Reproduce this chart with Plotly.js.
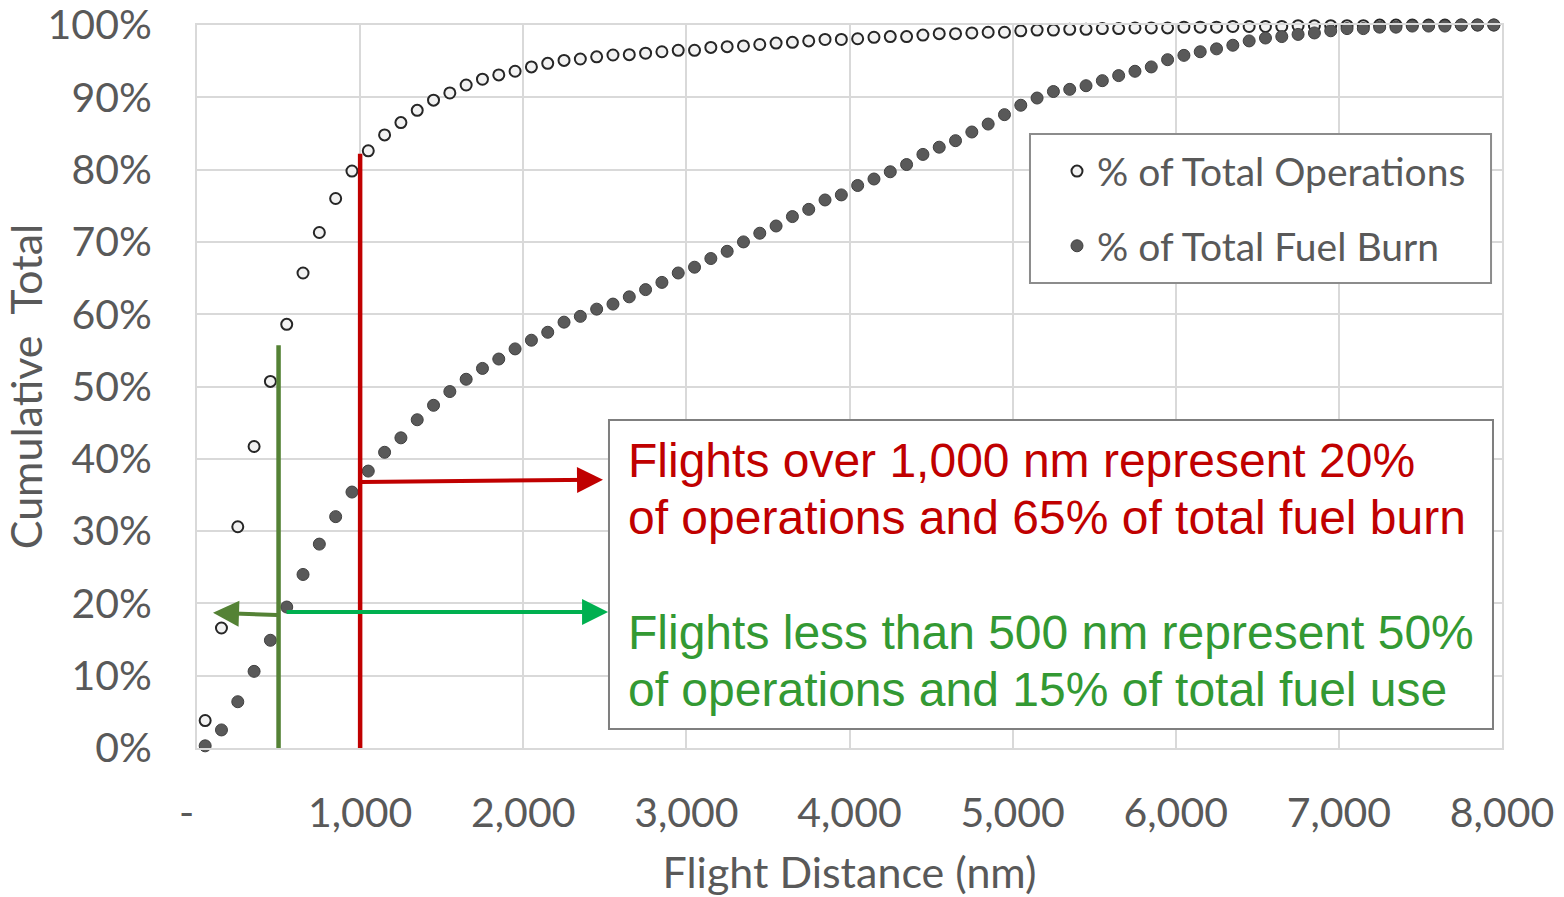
<!DOCTYPE html>
<html>
<head>
<meta charset="utf-8">
<script src="https://cdn.plot.ly/plotly-3.0.1.min.js"></script>
<style>html,body{margin:0;padding:0;background:#fff;}#chart{width:1564px;height:897px;}</style>
</head>
<body>
<div id="chart"></div>
<script>
// Flight distance bins (nm)
const distance = [
  50,150,250,350,450,550,650,750,850,950,
  1050,1150,1250,1350,1450,1550,1650,1750,1850,1950,
  2050,2150,2250,2350,2450,2550,2650,2750,2850,2950,
  3050,3150,3250,3350,3450,3550,3650,3750,3850,3950,
  4050,4150,4250,4350,4450,4550,4650,4750,4850,4950,
  5050,5150,5250,5350,5450,5550,5650,5750,5850,5950,
  6050,6150,6250,6350,6450,6550,6650,6750,6850,6950,
  7050,7150,7250,7350,7450,7550,7650,7750,7850,7950
];
// Cumulative % of total operations
const pctOperations = [
  3.8,16.6,30.6,41.7,50.7,58.6,65.7,71.3,76.0,79.8,
  82.6,84.8,86.5,88.2,89.6,90.6,91.7,92.5,93.1,93.6,
  94.2,94.7,95.1,95.3,95.6,95.85,95.9,96.1,96.3,96.5,
  96.5,96.9,97.0,97.1,97.3,97.5,97.6,97.8,98.0,98.0,
  98.1,98.3,98.4,98.4,98.6,98.8,98.8,98.9,99.0,99.0,
  99.2,99.3,99.3,99.4,99.4,99.5,99.5,99.6,99.6,99.6,
  99.7,99.7,99.7,99.8,99.8,99.8,99.8,99.9,99.9,99.9,
  99.9,99.9,100,100,100,100,100,100,100,100
];
// Cumulative % of total fuel burn
const pctFuelBurn = [
  0.3,2.5,6.4,10.6,14.9,19.5,24.0,28.2,32.0,35.4,
  38.3,40.9,42.9,45.4,47.4,49.3,51.0,52.5,53.8,55.2,
  56.4,57.5,58.9,59.7,60.7,61.4,62.4,63.4,64.4,65.7,
  66.5,67.7,68.7,70.0,71.2,72.2,73.5,74.5,75.8,76.5,
  77.8,78.7,79.7,80.7,82.1,83.1,84.0,85.2,86.3,87.6,
  88.9,89.9,90.8,91.1,91.6,92.3,93.0,93.6,94.2,95.2,
  95.8,96.3,96.7,97.2,97.8,98.2,98.4,98.7,98.9,99.2,
  99.5,99.5,99.7,99.7,99.85,99.85,99.85,100,100,100
];
const xTickVals = [0,1000,2000,3000,4000,5000,6000,7000,8000];
const xTickText = ['-\u00a0\u00a0','1,000','2,000','3,000','4,000','5,000','6,000','7,000','8,000'];
const yTickVals = [0,10,20,30,40,50,60,70,80,90,100];
const yTickText = ['0%','10%','20%','30%','40%','50%','60%','70%','80%','90%','100%'];

const seriesNames = ['% of Total Operations','% of Total Fuel Burn'];
const redNote = ['Flights over 1,000 nm represent 20%','of operations and 65% of total fuel burn'];
const greenNote = ['Flights less than 500 nm represent 50%','of operations and 15% of total fuel use'];

const FONT = 'Lato, Calibri, Carlito, sans-serif';
const GREY = '#595959';
const RED = '#c00000';
const OLIVE = '#548235';
const BGREEN = '#00b050';
const TGREEN = '#339933';

const traces = [
  {
    x: distance, y: pctOperations, name: seriesNames[0], type: 'scatter', mode: 'markers',
    cliponaxis: false, legendgroup: 'a',
    marker: {symbol: 'circle', size: 11, color: '#f2f2f2', line: {color: '#262626', width: 2}}
  },
  {
    x: distance, y: pctFuelBurn, name: seriesNames[1], type: 'scatter', mode: 'markers',
    cliponaxis: false, legendgroup: 'b',
    marker: {symbol: 'circle', size: 12, color: '#595959', line: {color: '#404040', width: 1}}
  }
];

const annotations = [];
const lineY = [[0.3983, redNote[0], RED],[0.3195, redNote[1], RED],[0.1604, greenNote[0], TGREEN],[0.0816, greenNote[1], TGREEN]];
lineY.forEach(([y, t, c]) => annotations.push({
  xref: 'paper', yref: 'paper', x: 0.3285, y: y, xanchor: 'left', yanchor: 'middle',
  text: t, showarrow: false, font: {family: 'Liberation Sans, Arial, sans-serif', size: 48, color: c}
}));
// arrows
annotations.push({xref:'x', yref:'y', axref:'x', ayref:'y', x: 2489, y: 37.1, ax: 1000, ay: 36.8,
  text:'', showarrow:true, arrowhead:2, arrowsize:1.3, arrowwidth:4, arrowcolor: RED, standoff:0, startstandoff:0});
annotations.push({xref:'x', yref:'y', axref:'x', ayref:'y', x: 98, y: 18.7, ax: 500, ay: 18.4,
  text:'', showarrow:true, arrowhead:2, arrowsize:1.3, arrowwidth:4, arrowcolor: OLIVE, standoff:0, startstandoff:0});
annotations.push({xref:'x', yref:'y', axref:'x', ayref:'y', x: 2520, y: 18.8, ax: 540, ay: 18.8,
  text:'', showarrow:true, arrowhead:2, arrowsize:1.3, arrowwidth:4, arrowcolor: BGREEN, standoff:0, startstandoff:0});

const shapes = [
  // legend box
  {type:'rect', xref:'paper', yref:'paper', x0:0.6383, x1:0.9916, y0:0.6432, y1:0.8492,
   line:{color:'#8c8c8c', width:2}, fillcolor:'#ffffff', layer:'above'},
  // note box
  {type:'rect', xref:'paper', yref:'paper', x0:0.3157, x1:0.9931, y0:0.0263, y1:0.4537,
   line:{color:'#7f7f7f', width:2}, fillcolor:'#ffffff', layer:'above'},
  // red vertical
  {type:'line', xref:'x', yref:'y', x0:1000, x1:1000, y0:0, y1:82.2, line:{color:RED, width:4.5}, layer:'above'},
  // olive vertical
  {type:'line', xref:'x', yref:'y', x0:500, x1:500, y0:0, y1:55.7, line:{color:OLIVE, width:4.5}, layer:'above'}
];

const layout = {
  width: 1564, height: 897,
  margin: {l: 197, r: 62, t: 25, b: 149, pad: 0},
  paper_bgcolor: '#ffffff', plot_bgcolor: '#ffffff',
  font: {family: FONT, color: GREY, size: 40},
  showlegend: true,
  legend: {x: 0.659, y: 0.842, xanchor: 'left', yanchor: 'top', bgcolor: 'rgba(0,0,0,0)',
    borderwidth: 0, font: {family: FONT, size: 39, color: GREY}, traceorder: 'grouped', tracegroupgap: 21},
  xaxis: {
    range: [0, 8000], tickvals: xTickVals, ticktext: xTickText, ticks: '',
    showgrid: true, gridcolor: '#d9d9d9', gridwidth: 2, zeroline: false,
    showline: true, linecolor: '#d9d9d9', linewidth: 2, mirror: true,
    tickfont: {family: FONT, size: 41, color: GREY}, ticklabelstandoff: 28, ticklabeloverflow: 'allow',
    title: {text: 'Flight Distance (nm)', font: {family: FONT, size: 43, color: GREY}, standoff: 26}
  },
  yaxis: {
    range: [0, 100], tickvals: yTickVals, ticktext: yTickText, ticks: '',
    showgrid: true, gridcolor: '#d9d9d9', gridwidth: 2, zeroline: false,
    showline: true, linecolor: '#d9d9d9', linewidth: 2, mirror: true,
    tickfont: {family: FONT, size: 41, color: GREY}, ticklabelstandoff: 35, ticklabeloverflow: 'allow',
    title: {text: 'Cumulative&nbsp;&nbsp;Total', font: {family: FONT, size: 43, color: GREY}, standoff: 14}
  },
  annotations: annotations,
  shapes: shapes
};

Plotly.newPlot('chart', traces, layout, {displayModeBar: false, staticPlot: true});
</script>
</body>
</html>
